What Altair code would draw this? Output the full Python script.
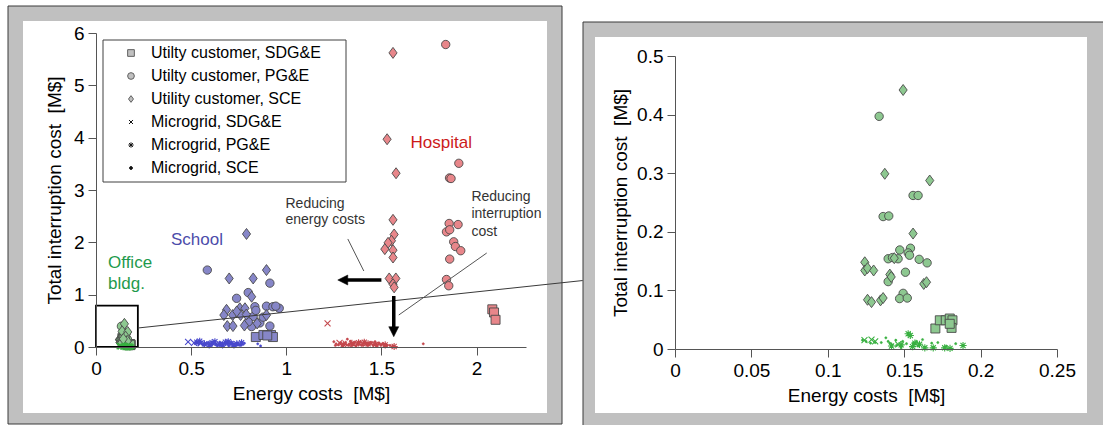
import altair as alt
import pandas as pd

FONT = "Liberation Sans"

# ---------------- series names (legend order) ----------------
SERIES = [
    "Utilty customer, SDG&E",
    "Utilty customer, PG&E",
    "Utility customer, SCE",
    "Microgrid, SDG&E",
    "Microgrid, PG&E",
    "Microgrid, SCE",
]
BUILDINGS = ["Hospital", "School", "Office bldg."]

# ---------------- Hospital ----------------
hosp_sdge_cost = [2.083, 2.092, 2.100]
hosp_sdge_int = [0.72, 0.66, 0.52]
hosp_pge_cost = [1.838, 1.907, 1.858, 1.866, 1.856, 1.903, 1.842, 1.859, 1.880, 1.889, 1.917, 1.859, 1.842, 1.854]
hosp_pge_int = [5.78, 3.51, 3.23, 3.22, 2.36, 2.34, 2.20, 2.24, 2.01, 1.92, 1.84, 1.68, 1.29, 1.17]
hosp_sce_cost = [1.561, 1.530, 1.577, 1.561, 1.567, 1.553, 1.535, 1.518, 1.561, 1.561, 1.541, 1.576, 1.561, 1.567]
hosp_sce_int = [5.62, 3.97, 3.32, 2.43, 2.15, 2.03, 1.99, 1.87, 1.85, 1.71, 1.31, 1.31, 1.20, 1.14]
hosp_mg_sdge_cost = [1.217, 1.28, 1.35]
hosp_mg_sdge_int = [0.45, 0.08, 0.06]
hosp_mg_pge_cost = [1.30, 1.38, 1.43, 1.47, 1.52, 1.567, 1.41, 1.345]
hosp_mg_pge_int = [0.05, 0.08, 0.06, 0.05, 0.04, 0.01, 0.09, 0.07]
hosp_mg_sce_cost = [1.25, 1.262, 1.275, 1.29, 1.30, 1.31, 1.318, 1.321, 1.33, 1.34, 1.345, 1.355,
                    1.36, 1.37, 1.375, 1.385, 1.39, 1.40, 1.405, 1.415, 1.42, 1.43, 1.435, 1.445,
                    1.45, 1.46, 1.47, 1.48, 1.49, 1.50, 1.515, 1.53, 1.56, 1.72,
                    1.258, 1.283, 1.296, 1.312, 1.327, 1.337, 1.352, 1.367, 1.381, 1.396, 1.411,
                    1.426, 1.441, 1.456, 1.466, 1.476, 1.487, 1.497, 1.508, 1.522, 1.545]
hosp_mg_sce_int = [0.10, 0.06, 0.04, 0.05, 0.03, 0.07, 0.04, 0.15, 0.05, 0.08, 0.03, 0.06,
                   0.09, 0.04, 0.07, 0.05, 0.10, 0.06, 0.03, 0.08, 0.05, 0.07, 0.04, 0.06,
                   0.09, 0.05, 0.07, 0.04, 0.06, 0.05, 0.04, 0.03, 0.02, 0.06,
                   0.03, 0.08, 0.02, 0.09, 0.03, 0.11, 0.04, 0.02, 0.09, 0.03, 0.10,
                   0.03, 0.09, 0.03, 0.10, 0.02, 0.08, 0.03, 0.07, 0.05, 0.03]

# ---------------- School ----------------
school_sdge_cost = [0.840, 0.880, 0.920, 0.930, 0.900]
school_sdge_int = [0.19, 0.23, 0.23, 0.19, 0.22]
school_pge_cost = [0.585, 0.914, 0.800, 0.739, 0.835, 0.896, 0.930, 0.963, 0.945, 0.826, 0.861, 0.879, 0.818, 0.914, 0.840, 0.800]
school_pge_int = [1.47, 1.22, 1.04, 0.93, 0.77, 0.78, 0.77, 0.74, 0.78, 0.58, 0.46, 0.57, 0.39, 0.40, 0.70, 0.48]
school_sce_cost = [0.791, 0.700, 0.826, 0.896, 0.818, 0.686, 0.718, 0.672, 0.756, 0.783, 0.760, 0.790, 0.896, 0.690, 0.720, 0.780, 0.847, 0.740]
school_sce_int = [2.16, 1.31, 1.31, 1.47, 0.96, 0.71, 0.61, 0.61, 0.74, 0.74, 0.61, 0.62, 0.61, 0.40, 0.40, 0.41, 0.45, 0.68]
school_mg_sdge_cost = [0.484, 0.515, 0.55]
school_mg_sdge_int = [0.10, 0.08, 0.07]
school_mg_pge_cost = [0.53, 0.57, 0.61, 0.65, 0.68, 0.71, 0.74, 0.545, 0.595, 0.625, 0.665, 0.695, 0.725, 0.765]
school_mg_pge_int = [0.09, 0.06, 0.08, 0.05, 0.09, 0.07, 0.06, 0.11, 0.04, 0.10, 0.04, 0.10, 0.04, 0.08]
school_mg_sce_cost = [0.54, 0.56, 0.58, 0.60, 0.615, 0.63, 0.645, 0.66, 0.675, 0.69, 0.705, 0.72, 0.735, 0.75,
                      0.78, 0.85, 0.865, 0.525, 0.55, 0.57, 0.59, 0.607, 0.622, 0.638, 0.652, 0.668,
                      0.683, 0.698, 0.712, 0.728, 0.743, 0.758, 0.77]
school_mg_sce_int = [0.06, 0.05, 0.07, 0.05, 0.06, 0.04, 0.06, 0.05, 0.07, 0.05, 0.06, 0.04, 0.06, 0.05,
                     0.07, 0.06, 0.02, 0.09, 0.10, 0.03, 0.09, 0.03, 0.08, 0.02, 0.09, 0.03,
                     0.08, 0.02, 0.09, 0.03, 0.08, 0.03, 0.05]

# ---------------- Office building ----------------
office_sdge_cost = [0.1704, 0.1733, 0.1772, 0.1798, 0.1816, 0.1810, 0.1798]
office_sdge_int = [0.035, 0.049, 0.049, 0.052, 0.049, 0.036, 0.043]
office_pge_cost = [0.1336, 0.1558, 0.1591, 0.1362, 0.1399, 0.1471, 0.1541, 0.1526, 0.1535, 0.1395,
                   0.1423, 0.1460, 0.1598, 0.1650, 0.1508, 0.1395, 0.1493, 0.1470, 0.1520]
office_pge_int = [0.397, 0.262, 0.262, 0.226, 0.227, 0.169, 0.172, 0.164, 0.160, 0.154,
                  0.156, 0.154, 0.153, 0.147, 0.131, 0.115, 0.095, 0.086, 0.087]
office_sce_cost = [0.1493, 0.1373, 0.1667, 0.1558, 0.1242, 0.1242, 0.1260, 0.1300, 0.1406, 0.1415,
                   0.1628, 0.1646, 0.1260, 0.1286, 0.1345, 0.1362, 0.1435]
office_sce_int = [0.442, 0.299, 0.2875, 0.197, 0.148, 0.134, 0.138, 0.134, 0.127, 0.123,
                  0.111, 0.114, 0.084, 0.080, 0.083, 0.087, 0.155]
office_mg_sdge_cost = [0.1286, 0.131, 0.124, 0.146]
office_mg_sdge_int = [0.016, 0.013, 0.015, 0.008]
office_mg_pge_cost = [0.1526, 0.154, 0.157, 0.1635, 0.169, 0.1765, 0.180, 0.1885, 0.148, 0.1417, 0.160, 0.1555]
office_mg_pge_int = [0.026, 0.023, 0.010, 0.002, 0.002, 0.002, 0.001, 0.006, 0.007, 0.005, 0.008, 0.004]
office_mg_sce_cost = [0.1227, 0.125, 0.128, 0.131, 0.135, 0.138, 0.1406, 0.142, 0.1445, 0.149, 0.1515,
                      0.156, 0.158, 0.162, 0.168, 0.172, 0.1776, 0.1837, 0.148, 0.159, 0.145, 0.1395]
office_mg_sce_int = [0.015, 0.013, 0.010, 0.011, 0.011, 0.019, 0.010, 0.007, 0.015, 0.013, 0.009,
                     0.010, 0.013, 0.016, 0.010, 0.011, 0.005, 0.009, 0.002, 0.005, 0.006, 0.013]

# ---------------- assemble long table ----------------
rows = []


def add(building, series, costs, ints):
    for c, i in zip(costs, ints):
        rows.append({"building": building, "series": series, "energy": c, "interrupt": i})


add("Hospital", SERIES[0], hosp_sdge_cost, hosp_sdge_int)
add("Hospital", SERIES[1], hosp_pge_cost, hosp_pge_int)
add("Hospital", SERIES[2], hosp_sce_cost, hosp_sce_int)
add("Hospital", SERIES[3], hosp_mg_sdge_cost, hosp_mg_sdge_int)
add("Hospital", SERIES[4], hosp_mg_pge_cost, hosp_mg_pge_int)
add("Hospital", SERIES[5], hosp_mg_sce_cost, hosp_mg_sce_int)
add("School", SERIES[0], school_sdge_cost, school_sdge_int)
add("School", SERIES[1], school_pge_cost, school_pge_int)
add("School", SERIES[2], school_sce_cost, school_sce_int)
add("School", SERIES[3], school_mg_sdge_cost, school_mg_sdge_int)
add("School", SERIES[4], school_mg_pge_cost, school_mg_pge_int)
add("School", SERIES[5], school_mg_sce_cost, school_mg_sce_int)
add("Office bldg.", SERIES[0], office_sdge_cost, office_sdge_int)
add("Office bldg.", SERIES[1], office_pge_cost, office_pge_int)
add("Office bldg.", SERIES[2], office_sce_cost, office_sce_int)
add("Office bldg.", SERIES[3], office_mg_sdge_cost, office_mg_sdge_int)
add("Office bldg.", SERIES[4], office_mg_pge_cost, office_mg_pge_int)
add("Office bldg.", SERIES[5], office_mg_sce_cost, office_mg_sce_int)
df = pd.DataFrame(rows)
legend_df = pd.DataFrame({"series": SERIES})

# ---------------- styling ----------------
FILL_LIGHT = {"Hospital": "#e8868a", "School": "#8686c8", "Office bldg.": "#8dc890"}
MICRO_COL = {"Hospital": "#c4474c", "School": "#4848cc", "Office bldg.": "#38b040"}
LABEL_COL = {"Hospital": "#cc1a1a", "School": "#4c4caa", "Office bldg.": "#1f9a4c"}
OUTLINE = "#4a4a4a"
AXIS_COL = "#555555"
GAP = "\u00a0\u00a0"

SHAPES = [
    "square",
    "circle",
    "M0,-1L0.74,0L0,1L-0.74,0Z",
    "M-0.6,-0.6L0.6,0.6M-0.6,0.6L0.6,-0.6",
    "M-0.8,0L0.8,0M0,-0.8L0,0.8M-0.57,-0.57L0.57,0.57M-0.57,0.57L0.57,-0.57",
    "M0.45,0A0.45,0.45,0,1,1,-0.45,0A0.45,0.45,0,1,1,0.45,0Z",
]
SIZES = [81, 70, 121, 100, 81, 26]
LEG_SIZES = [45, 45, 64, 64, 77, 60]
LEG_FILL = ["#c0c0c0", "#c0c0c0", "#c0c0c0", "transparent", "transparent", "#111111"]
LEG_STROKE = ["#606060", "#606060", "#606060", "#111111", "#111111", "#111111"]

# scales (left: all buildings, right: office building close-up)
X_LEFT = alt.Scale(domain=[0, 2.26], range=[96, 526], nice=False, zero=False)
Y_LEFT = alt.Scale(domain=[0, 6], range=[347, 33], nice=False, zero=False)
X_RIGHT = alt.Scale(domain=[0, 0.25], range=[675, 1057], nice=False, zero=False)
Y_RIGHT = alt.Scale(domain=[0, 0.5], range=[349, 56], nice=False, zero=False)


def x_axis(values, offset):
    return alt.Axis(
        values=values, format="~g", orient="bottom", offset=offset, grid=False,
        title="Energy costs" + GAP + "[M$]", tickSize=8, labelPadding=4, titlePadding=6,
        labelFont=FONT, titleFont=FONT, labelFontSize=19, titleFontSize=19,
        titleFontWeight="normal", labelColor="black", titleColor="black",
        domainColor=AXIS_COL, tickColor=AXIS_COL, labelFlush=False, labelOverlap=False,
        zindex=1,
    )


def y_axis(values, offset, pad):
    return alt.Axis(
        values=values, format="~g", orient="left", offset=offset, grid=False,
        title="Total interruption cost" + GAP + "[M$]", tickSize=8, labelPadding=4, titlePadding=pad,
        labelFont=FONT, titleFont=FONT, labelFontSize=19, titleFontSize=19,
        titleFontWeight="normal", labelColor="black", titleColor="black",
        domainColor=AXIS_COL, tickColor=AXIS_COL, labelFlush=False, labelOverlap=False,
        zindex=1,
    )


def point_layers(buildings, xs, ys, xax, yax):
    layers = []
    first = True
    for b in buildings:
        for k, s in enumerate(SERIES):
            if k < 3:
                mark = alt.MarkDef(type="point", shape=SHAPES[k], size=SIZES[k], filled=True,
                                   fill=FILL_LIGHT[b], stroke=OUTLINE, strokeWidth=0.9, opacity=1)
            elif k < 5:
                mark = alt.MarkDef(type="point", shape=SHAPES[k], size=SIZES[k], filled=False,
                                   stroke=MICRO_COL[b], strokeWidth=1.1, opacity=1)
            else:
                mark = alt.MarkDef(type="point", shape=SHAPES[k], size=SIZES[k], filled=True,
                                   fill=MICRO_COL[b], stroke=MICRO_COL[b], strokeWidth=0.5, opacity=1)
            layer = alt.Chart(df, mark=mark).transform_filter(
                (alt.datum.building == b) & (alt.datum.series == s)
            ).encode(
                x=alt.X("energy:Q", scale=xs, axis=xax if first else None),
                y=alt.Y("interrupt:Q", scale=ys, axis=yax if first else None),
            )
            first = False
            layers.append(layer)
    return layers


one = alt.Chart(pd.DataFrame({"k": [0]}))


def lx(v):
    return alt.XDatum(v, type="quantitative", scale=X_LEFT, axis=None)


def ly(v):
    return alt.YDatum(v, type="quantitative", scale=Y_LEFT, axis=None)


# ---------------- panel frames ----------------
frames = [
    one.mark_rect(fill="#c0c0c0", stroke="#3a3a3a", strokeWidth=1).encode(
        x=alt.value(8), x2=alt.value(562), y=alt.value(6), y2=alt.value(424)),
    one.mark_rect(fill="white").encode(
        x=alt.value(23), x2=alt.value(547), y=alt.value(21), y2=alt.value(413)),
    one.mark_rect(fill="#c0c0c0", stroke="#3a3a3a", strokeWidth=1).encode(
        x=alt.value(583), x2=alt.value(1110), y=alt.value(22), y2=alt.value(432)),
    one.mark_rect(fill="white").encode(
        x=alt.value(595), x2=alt.value(1087), y=alt.value(37), y2=alt.value(413)),
]


# ---------------- left panel annotations ----------------
def label(text, x, y, color, size):
    return one.mark_text(text=text, align="left", baseline="middle", font=FONT,
                         fontSize=size, color=color).encode(x=lx(x), y=ly(y))


def seg(x1, y1, x2, y2, color, width):
    return one.mark_rule(color=color, strokeWidth=width).encode(
        x=lx(x1), y=ly(y1), x2=alt.X2Datum(x2), y2=alt.Y2Datum(y2))


ARROW_LEFT = "M-1,0L1,-1L1,1Z"
ARROW_DOWN = "M0,1L-1,-1L1,-1Z"

left_notes = [
    # zoom box around the office-building cluster and its connector
    one.mark_rect(fill=None, stroke="black", strokeWidth=1.8).encode(
        x=lx(0), x2=alt.X2Datum(0.22), y=ly(0), y2=alt.Y2Datum(0.79)),
    seg(0.22, 0.363, 2.558, 1.27, "#3a3a3a", 1),
    # building labels
    label("Hospital", 1.653, 3.89, LABEL_COL["Hospital"], 17),
    label("School", 0.394, 2.045, LABEL_COL["School"], 17),
    label("Office", 0.063, 1.611, LABEL_COL["Office bldg."], 17),
    label("bldg.", 0.063, 1.204, LABEL_COL["Office bldg."], 17),
    # direction notes
    label("Reducing", 0.996, 2.74, "#333333", 14),
    label("energy costs", 0.996, 2.42, "#333333", 14),
    label("Reducing", 1.973, 2.866, "#333333", 14),
    label("interruption", 1.973, 2.536, "#333333", 14),
    label("cost", 1.973, 2.192, "#333333", 14),
    seg(1.3235, 2.064, 1.4076, 1.452, "#555555", 1),
    seg(2.0536, 1.796, 1.5914, 0.6115, "#555555", 1),
    # arrows
    seg(1.50, 1.28, 1.30, 1.28, "black", 3.5),
    one.mark_point(shape=ARROW_LEFT, size=100, filled=True, fill="black", stroke="black",
                   strokeWidth=0.5, opacity=1).encode(x=lx(1.297), y=ly(1.28)),
    seg(1.565, 0.975, 1.565, 0.30, "black", 3.5),
    one.mark_point(shape=ARROW_DOWN, size=100, filled=True, fill="black", stroke="black",
                   strokeWidth=0.5, opacity=1).encode(x=lx(1.565), y=ly(0.292)),
]

left_points = point_layers(BUILDINGS, X_LEFT, Y_LEFT,
                           x_axis([0, 0.5, 1, 1.5, 2], -78),
                           y_axis([0, 1, 2, 3, 4, 5, 6], -96, 9))
right_points = point_layers(["Office bldg."], X_RIGHT, Y_RIGHT,
                            x_axis([0, 0.05, 0.1, 0.15, 0.2, 0.25], -76),
                            y_axis([0, 0.1, 0.2, 0.3, 0.4, 0.5], -675, 6))

# ---------------- legend box ----------------
LEG_Y = alt.Scale(domain=SERIES, range=[53, 168], padding=0)
legend = [
    one.mark_rect(fill="white", stroke="#404040", strokeWidth=1).encode(
        x=alt.value(103), x2=alt.value(346), y=alt.value(40), y2=alt.value(182)),
    alt.Chart(legend_df).mark_point(filled=True, opacity=1, strokeWidth=1).encode(
        x=alt.value(131),
        y=alt.Y("series:N", scale=LEG_Y, axis=None),
        shape=alt.Shape("series:N", scale=alt.Scale(domain=SERIES, range=SHAPES), legend=None),
        size=alt.Size("series:N", scale=alt.Scale(domain=SERIES, range=LEG_SIZES), legend=None),
        fill=alt.Fill("series:N", scale=alt.Scale(domain=SERIES, range=LEG_FILL), legend=None),
        stroke=alt.Stroke("series:N", scale=alt.Scale(domain=SERIES, range=LEG_STROKE), legend=None),
    ),
    alt.Chart(legend_df).mark_text(align="left", baseline="middle", font=FONT, fontSize=16,
                                   color="black").encode(
        x=alt.value(151),
        y=alt.Y("series:N", scale=LEG_Y, axis=None),
        text="series:N",
    ),
]

chart = alt.layer(*frames, *left_points, *left_notes, *right_points, *legend).resolve_scale(
    x="independent", y="independent", shape="independent", size="independent",
    fill="independent", stroke="independent",
).properties(
    width=1103, height=425, padding=0, background="white",
    autosize=alt.AutoSizeParams(type="none"),
).configure_view(stroke=None)

chart.save("out.html", embed_options={"renderer": "svg", "actions": False})
